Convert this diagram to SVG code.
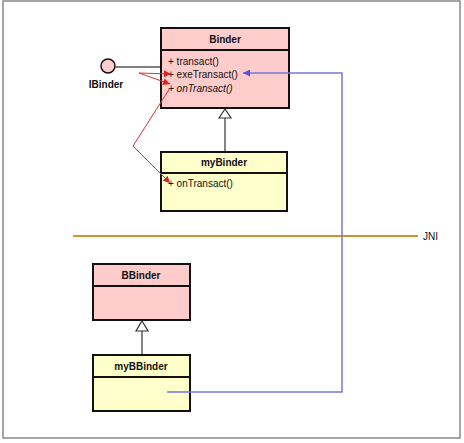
<svg xmlns="http://www.w3.org/2000/svg" width="464" height="443" viewBox="0 0 464 443">
<style>
.t{font-family:"Liberation Sans",Arial,sans-serif;font-size:10px;fill:#111}
.b{font-weight:bold;text-anchor:middle}
.box{stroke:#111;stroke-width:2}
.pink{fill:#ffcccc}
.yel{fill:#ffffcc}
.red{stroke:#e03030;stroke-width:1;fill:none}
.blue{stroke:#7777dd;stroke-width:1.5;fill:none}
</style>
<defs>
<marker id="ar" viewBox="0 0 10 10" refX="10" refY="5" markerWidth="7" markerHeight="7" orient="auto" markerUnits="userSpaceOnUse"><path d="M0,0 L10,5 L0,10 z" fill="#e02020"/></marker>
<marker id="ab" viewBox="0 0 10 10" refX="10" refY="5" markerWidth="7" markerHeight="7" orient="auto" markerUnits="userSpaceOnUse"><path d="M0,0 L10,5 L0,10 z" fill="#5555dd"/></marker>
</defs>
<rect x="3" y="1" width="457" height="437" fill="#fff" stroke="#888" stroke-width="1.5"/>
<g id="jni">
<line x1="73" y1="236" x2="418" y2="236" stroke="#d4902a" stroke-width="2"/>
<text class="t" x="423" y="240">JNI</text>
</g>
<g id="IBinder">
<circle cx="108" cy="66" r="7" fill="#ffcccc" stroke="#111" stroke-width="1.5"/>
<text class="t b" x="106" y="88">IBinder</text>
</g>
<g id="Binder">
<rect class="box pink" x="161" y="28" width="128" height="80"/>
<line class="box" x1="161" y1="50" x2="289" y2="50"/>
<text class="t b" x="225" y="43">Binder</text>
<text class="t" x="168" y="65">+ transact()</text>
<text class="t" x="168" y="78">+ exeTransact()</text>
<text class="t" x="168" y="92" font-style="italic">+ onTransact()</text>
</g>
<g id="myBinder">
<rect class="box yel" x="161" y="152" width="126" height="59"/>
<line class="box" x1="161" y1="173" x2="287" y2="173"/>
<text class="t b" x="224" y="166">myBinder</text>
<text class="t" x="168" y="187">+ onTransact()</text>
</g>
<g id="BBinder">
<rect class="box pink" x="93" y="264" width="97" height="56"/>
<line class="box" x1="93" y1="286" x2="190" y2="286"/>
<text class="t b" x="141" y="279">BBinder</text>
</g>
<g id="myBBinder">
<rect class="box yel" x="93" y="355" width="97" height="56"/>
<line class="box" x1="93" y1="377" x2="190" y2="377"/>
<text class="t b" x="141" y="370">myBBinder</text>
</g>
<g id="connectors">
<line x1="115" y1="67" x2="160" y2="67" stroke="#555" stroke-width="1.5"/>
<line x1="225" y1="151" x2="225" y2="118" stroke="#333" stroke-width="1.2"/>
<path d="M225,109 L231,118 L219,118 z" fill="#fff" stroke="#333" stroke-width="1.2"/>
<line x1="142" y1="354" x2="142" y2="331" stroke="#333" stroke-width="1.2"/>
<path d="M142,321 L148,331 L136,331 z" fill="#fff" stroke="#333" stroke-width="1.2"/>
<line class="red" x1="139" y1="73" x2="171" y2="74" marker-end="url(#ar)"/>
<line class="red" x1="139" y1="73" x2="170" y2="84" marker-end="url(#ar)"/>
<polyline class="red" points="170,88 133,146 170,183" marker-end="url(#ar)"/>
<polyline class="blue" points="167,392 342,392 342,73 243,73" marker-end="url(#ab)"/>
</g>
</svg>
